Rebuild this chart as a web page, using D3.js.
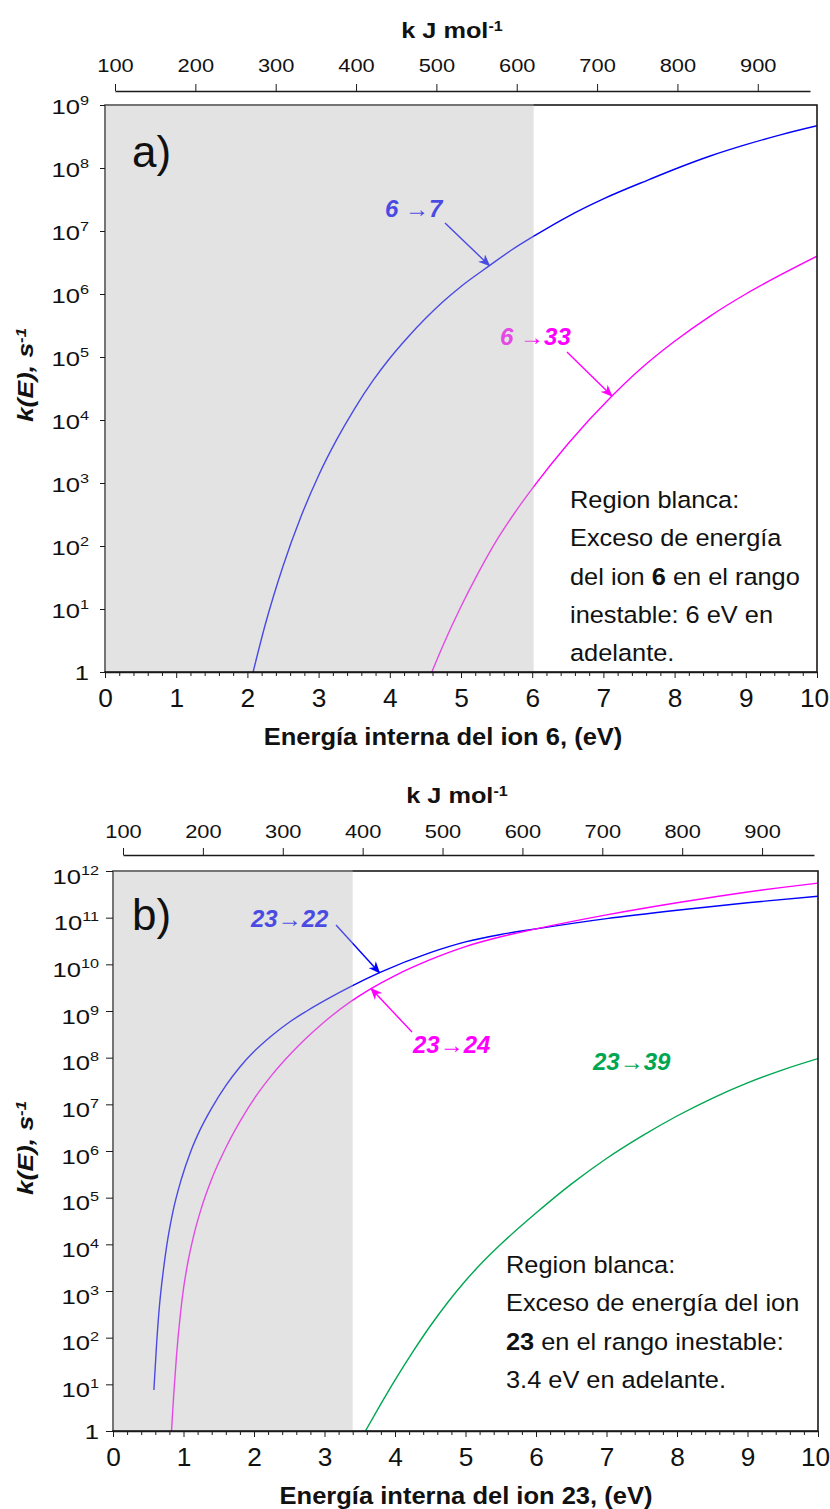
<!DOCTYPE html>
<html><head><meta charset="utf-8">
<script src="https://cdn.jsdelivr.net/npm/d3@7"></script>
<style>body{margin:0;background:#fff} text{font-family:"Liberation Sans",Arial,sans-serif}</style>
</head><body><svg id="c" width="830" height="1509"></svg>
<script>
// ---------- DATA (energy in eV, log10 k(E) in s^-1) ----------
// Panel a: ion 6
const eA_6to7    = [2.08, 2.25, 2.5, 2.75, 3.0, 3.25, 3.5, 3.76, 4.0, 4.25, 4.5, 4.75, 5.0, 5.4, 5.7, 6.04, 6.5, 7.0, 7.65, 8.0, 8.5, 9.0, 9.5, 10.0];
const logkA_6to7 = [0, 0.75, 1.68, 2.46, 3.12, 3.68, 4.17, 4.62, 4.98, 5.31, 5.61, 5.88, 6.12, 6.45, 6.69, 6.93, 7.23, 7.51, 7.82, 7.98, 8.19, 8.37, 8.53, 8.67];
const eA_6to33    = [4.59, 4.75, 5.0, 5.25, 5.5, 5.75, 6.04, 6.5, 7.12, 7.5, 8.0, 8.5, 9.0, 9.5, 10.0];
const logkA_6to33 = [0, 0.43, 1.04, 1.59, 2.09, 2.52, 2.97, 3.62, 4.38, 4.79, 5.25, 5.65, 6.0, 6.31, 6.6];
// Panel b: ion 23
const eB_23to22    = [0.58, 0.62, 0.66, 0.71, 0.76, 0.85, 0.97, 1.1, 1.25, 1.4, 1.6, 1.8, 2.0, 2.25, 2.5, 2.75, 3.0, 3.37, 3.78, 4.5, 5.0, 5.5, 6.0, 7.0, 8.0, 9.0, 10.0];
const logkB_23to22 = [0.88, 1.9, 2.7, 3.39, 3.95, 4.7, 5.4, 5.98, 6.5, 6.92, 7.4, 7.8, 8.13, 8.47, 8.76, 9.0, 9.22, 9.52, 9.82, 10.25, 10.48, 10.64, 10.76, 10.98, 11.16, 11.32, 11.46];
const eB_23to24    = [0.83, 0.86, 0.9, 0.95, 1.0, 1.06, 1.15, 1.25, 1.4, 1.6, 1.8, 2.03, 2.25, 2.5, 2.75, 3.0, 3.37, 3.66, 4.0, 4.5, 5.0, 5.5, 6.0, 7.0, 8.0, 8.59, 9.0, 9.5, 10.0];
const logkB_23to24 = [0, 0.75, 1.6, 2.42, 3.05, 3.6, 4.22, 4.76, 5.4, 6.07, 6.63, 7.18, 7.62, 8.05, 8.43, 8.77, 9.2, 9.48, 9.76, 10.1, 10.38, 10.59, 10.76, 11.06, 11.32, 11.46, 11.55, 11.65, 11.74];
const eB_23to39    = [3.58, 3.8, 4.0, 4.25, 4.5, 4.75, 5.0, 5.25, 5.5, 6.0, 6.5, 7.0, 7.5, 8.0, 8.5, 9.0, 9.5, 10.0];
const logkB_23to39 = [0, 0.58, 1.09, 1.69, 2.25, 2.76, 3.22, 3.63, 4.0, 4.67, 5.29, 5.84, 6.32, 6.75, 7.13, 7.46, 7.74, 7.98];

const xTicksEV = [0,1,2,3,4,5,6,7,8,9,10];
const xTicksKJ = [100,200,300,400,500,600,700,800,900];
const yExpA = [0,1,2,3,4,5,6,7,8,9];
const yExpB = [0,1,2,3,4,5,6,7,8,9,10,11,12];

const textA = [["Region blanca:"],["Exceso de energía"],["del ion ",["6"]," en el rango"],["inestable: 6 eV en"],["adelante."]];
const textB = [["Region blanca:"],["Exceso de energía del ion"],[["23"]," en el rango inestable:"],["3.4 eV en adelante."]];

// ---------- DRAW ----------
const svg = d3.select("#c");
const BLUE="#0000ff", MAG="#ff00ff", GREEN="#00a651";
const FONT="Liberation Sans, Arial, sans-serif";

const defs = svg.append("defs");
[["ab",BLUE],["am",MAG]].forEach(([id,c])=>{
  defs.append("marker").attr("id",id).attr("viewBox","0 0 12 10").attr("refX",11).attr("refY",5)
    .attr("markerWidth",12).attr("markerHeight",10).attr("markerUnits","userSpaceOnUse").attr("orient","auto")
    .append("path").attr("d","M0,0 L12,5 L0,10 L3.5,5 Z").attr("fill",c);
});

function interp(es, ks, e){
  for(let i=1;i<es.length;i++){
    if(e<=es[i]){ const t=(e-es[i-1])/(es[i]-es[i-1]); return ks[i-1]+t*(ks[i]-ks[i-1]); }
  }
  return ks[ks.length-1];
}

function panel(cfg){
  const g = svg.append("g");
  const x = d3.scaleLinear().domain([0,10]).range([cfg.left,cfg.right]);
  const y = d3.scaleLog().domain([1, Math.pow(10,cfg.maxExp)]).range([cfg.bottom,cfg.top]);
  const clipId = "clip"+cfg.id;
  defs.append("clipPath").attr("id",clipId).append("rect")
    .attr("x",cfg.left).attr("y",cfg.top).attr("width",cfg.right-cfg.left).attr("height",cfg.bottom-cfg.top);

  // curves
  const line = d3.line().x(d=>x(d[0])).y(d=>y(Math.pow(10,d[1]))).curve(d3.curveMonotoneX);
  cfg.series.forEach(s=>{
    g.append("path").attr("clip-path",`url(#${clipId})`)
      .attr("d", line(s.e.map((e,i)=>[e,s.k[i]])))
      .attr("fill","none").attr("stroke",s.color).attr("stroke-width",1.4);
  });

  // frame
  g.append("rect").attr("x",cfg.left).attr("y",cfg.top).attr("width",cfg.right-cfg.left).attr("height",cfg.bottom-cfg.top)
    .attr("fill","none").attr("stroke","#1a1a1a").attr("stroke-width",1.6);

  // annotations
  cfg.labels.forEach(l=>{
    const t = g.append("text").attr("x",l.x).attr("y",l.y).attr("font-size",24).attr("fill",l.color);
    t.append("tspan").attr("font-weight","bold").attr("font-style","italic").text(l.a);
    t.append("tspan").text(l.arrowText);
    t.append("tspan").attr("font-weight","bold").attr("font-style","italic").text(l.b);
    if(l.tipE!==undefined){
      const s = cfg.series[l.si];
      const tx=x(l.tipE), ty=y(Math.pow(10,interp(s.e,s.k,l.tipE)));
      g.append("line").attr("x1",l.from[0]).attr("y1",l.from[1]).attr("x2",tx).attr("y2",ty)
        .attr("stroke",l.color).attr("stroke-width",1.4).attr("marker-end",`url(#${l.marker})`);
    }
  });

  // semi-transparent grey overlay (unstable region excluded)
  g.append("rect").attr("x",cfg.left-1).attr("y",cfg.top-1).attr("width",x(cfg.shadeTo)-cfg.left+1).attr("height",cfg.bottom-cfg.top)
    .attr("fill","#bababa").attr("opacity",0.4);

  // panel letter
  g.append("text").attr("x",132).attr("y",cfg.top+cfg.letterDy).attr("font-size",44).attr("fill","#111").text(cfg.letter);

  // region text
  const rt = g.append("text").attr("transform",`translate(${cfg.rtX},0) scale(1.08,1)`)
    .attr("font-size",23.5).attr("fill","#111");
  cfg.regionText.forEach((ln,i)=>{
    const row = rt.append("tspan").attr("x",0).attr("y",cfg.rtY+i*38.3);
    ln.forEach(part=>{
      if(Array.isArray(part)) row.append("tspan").attr("font-weight","bold").text(part[0]);
      else row.append("tspan").text(part);
    });
  });

  // bottom axis
  const ax = g.append("g").attr("transform",`translate(0,${cfg.bottom})`)
    .call(d3.axisBottom(x).tickValues(xTicksEV).tickSize(6).tickSizeOuter(0).tickPadding(11).tickFormat(d3.format("d")));
  ax.select(".domain").attr("stroke","#1a1a1a").attr("stroke-width",1.6);
  ax.selectAll("line").attr("stroke","#1a1a1a");
  ax.selectAll("text").attr("font-size",25).attr("fill","#111").style("font-family",FONT)
    .attr("transform",d=>`translate(${d===10?-3:0},0) scale(1.05,1)`);
  const minor = d3.range(0,10.001,0.2).filter(v=>Math.abs(v-Math.round(v))>1e-6);
  const axm = g.append("g").attr("transform",`translate(0,${cfg.bottom})`)
    .call(d3.axisBottom(x).tickValues(minor).tickSize(4).tickSizeOuter(0).tickFormat(""));
  axm.select(".domain").remove(); axm.selectAll("line").attr("stroke","#1a1a1a");

  // left axis
  const ay = g.append("g").attr("transform",`translate(${cfg.left},0)`)
    .call(d3.axisLeft(y).tickValues(cfg.yExp.map(e=>Math.pow(10,e))).tickSize(cfg.yTick).tickSizeOuter(0).tickFormat(""));
  ay.select(".domain").remove(); ay.selectAll("line").attr("stroke","#1a1a1a");
  ay.selectAll(".tick").each(function(d){
    const e = Math.round(Math.log10(d));
    const t = d3.select(this).select("text").attr("font-size",20.5).attr("fill","#111")
      .attr("dy",null).attr("y",e===0?7.3:7.3+cfg.yLabShift)
      .attr("x",0).attr("text-anchor","end").style("font-family",FONT)
      .attr("transform",`translate(${-cfg.yLabGap},0) scale(1.25,1)`);
    t.text(null);
    if(e===0){ t.append("tspan").text("1"); }
    else { t.append("tspan").text("10"); t.append("tspan").attr("dy",-9).attr("font-size",13).text(e); }
  });

  // top kJ/mol axis
  const xt = d3.scaleLinear().domain([100,965]).range(cfg.topRange);
  const at = g.append("g").attr("transform",`translate(0,${cfg.topY})`)
    .call(d3.axisTop(xt).tickValues(xTicksKJ).tickSize(7).tickSizeOuter(0).tickPadding(cfg.topPad));
  at.select(".domain").attr("stroke","#1a1a1a").attr("stroke-width",1.4);
  at.selectAll("line").attr("stroke","#1a1a1a");
  at.selectAll("text").attr("font-size",19).attr("fill","#111").style("font-family",FONT)
    .attr("transform","scale(1.15,1)");

  // top axis title
  const tt = g.append("text").attr("transform",`translate(${cfg.topTitleX},${cfg.topTitleY}) scale(1.15,1)`)
    .attr("text-anchor","middle").attr("font-size",22).attr("font-weight","bold").attr("fill","#111");
  tt.append("tspan").text("k J mol");
  tt.append("tspan").attr("dy","-0.5em").attr("font-size",14).text("-1");

  // x title
  g.append("text").attr("transform",`translate(${cfg.xTitleX},${cfg.xTitleY}) scale(1.11,1)`).attr("text-anchor","middle")
    .attr("font-size",23).attr("font-weight","bold").attr("fill","#111").text(cfg.xTitle);

  // y title
  const yt = g.append("text").attr("transform",`translate(${cfg.yTitleX},${cfg.yTitleY}) rotate(-90) scale(1.2,1)`)
    .attr("text-anchor","middle").attr("font-size",22).attr("font-weight","bold").attr("font-style","italic").attr("fill","#111");
  yt.append("tspan").text("k(E), s");
  yt.append("tspan").attr("dy","-0.5em").attr("font-size",14).text("-1");
}

const seriesA = [{e:eA_6to7,k:logkA_6to7,color:BLUE},{e:eA_6to33,k:logkA_6to33,color:MAG}];
panel({
  id:"A", left:105, right:817, top:105, bottom:672, maxExp:9, yExp:yExpA, shadeTo:6.02, letter:"a)", letterDy:62,
  yTick:5, yLabGap:16, yLabShift:1,
  series:seriesA,
  labels:[
    {x:385,y:217,a:"6",arrowText:" \u2192",b:"7",color:BLUE,si:0,tipE:5.4,from:[445,223],marker:"ab"},
    {x:500,y:345,a:"6",arrowText:" \u2192",b:"33",color:MAG,si:1,tipE:7.12,from:[567,352],marker:"am"}
  ],
  regionText:textA, rtX:570, rtY:508,
  topY:91, topRange:[115,810], topPad:12, topTitleX:452, topTitleY:38,
  xTitle:"Energía interna del ion 6, (eV)", xTitleX:443, xTitleY:745,
  yTitleX:33, yTitleY:375
});
const seriesB = [{e:eB_23to22,k:logkB_23to22,color:BLUE},{e:eB_23to24,k:logkB_23to24,color:MAG},{e:eB_23to39,k:logkB_23to39,color:GREEN}];
panel({
  id:"B", left:113, right:818, top:871, bottom:1431, maxExp:12, yExp:yExpB, shadeTo:3.4, letter:"b)", letterDy:59,
  yTick:7, yLabGap:14, yLabShift:5,
  series:seriesB,
  labels:[
    {x:251,y:927,a:"23",arrowText:"\u2192",b:"22",color:BLUE,si:0,tipE:3.78,from:[336,925],marker:"ab"},
    {x:413,y:1053,a:"23",arrowText:"\u2192",b:"24",color:MAG,si:1,tipE:3.66,from:[412,1032],marker:"am"},
    {x:593,y:1070,a:"23",arrowText:"\u2192",b:"39",color:GREEN}
  ],
  regionText:textB, rtX:506, rtY:1273,
  topY:855, topRange:[123,814], topPad:10, topTitleX:457, topTitleY:803,
  xTitle:"Energía interna del ion 23, (eV)", xTitleX:466, xTitleY:1504,
  yTitleX:33, yTitleY:1148
});
</script></body></html>
